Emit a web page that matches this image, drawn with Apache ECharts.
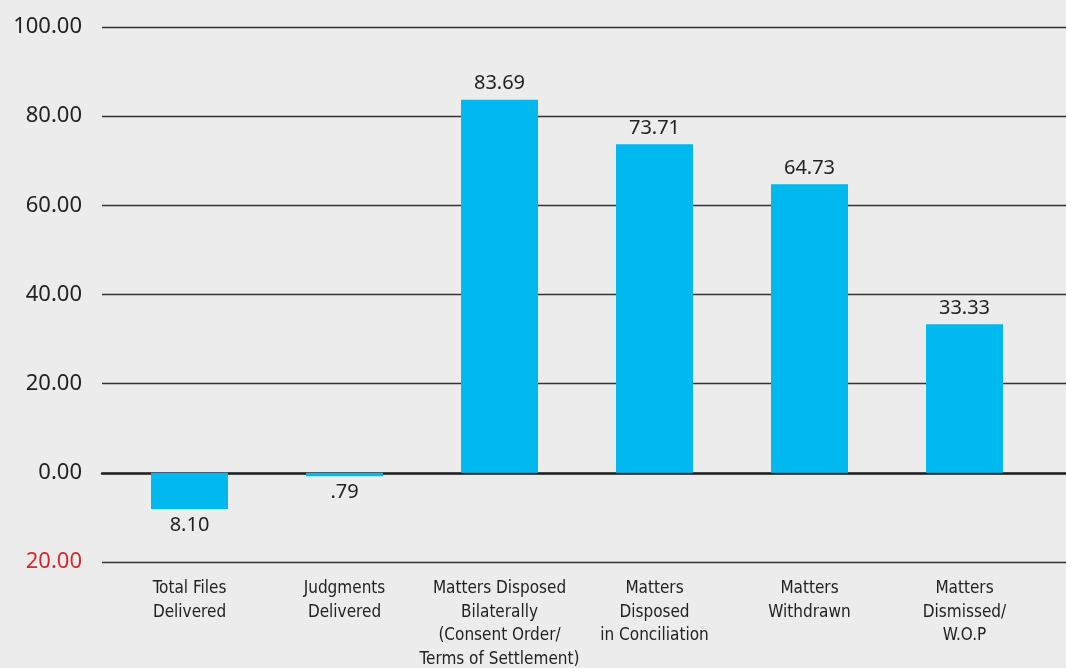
<!DOCTYPE html>
<html><head><meta charset="utf-8">
<script src="https://cdn.jsdelivr.net/npm/echarts@6/dist/echarts.min.js"></script>
<style>html,body{margin:0;padding:0;background:#ececec;}#c{width:1066px;height:668px;}</style>
</head><body><div id="c"></div>
<script>
const categories = ["Total Files\nDelivered", "Judgments\nDelivered", "Matters Disposed\nBilaterally\n(Consent Order/\nTerms of Settlement)", "Matters\nDisposed\nin Conciliation", "Matters\nWithdrawn", "Matters\nDismissed/\nW.O.P"];
const values = [-8.10, -0.79, 83.69, 73.71, 64.73, 33.33];
const yTicks = { min: -20, max: 100, interval: 20 };

const chart = echarts.init(document.getElementById('c'));
const fmtVal = v => { let s = Math.abs(v).toFixed(2); if (s.startsWith('0.')) s = s.slice(1); return s; };
const labelFont = "'Noto Sans', Lato, sans-serif";
chart.setOption({
  backgroundColor: '#ececec',
  animation: false,
  grid: [
    { left: 102, right: 0, top: 27, bottom: 106, containLabel: false, outerBoundsMode: 'none' },
    { left: 112, right: 24, top: 27, bottom: 106, containLabel: false, outerBoundsMode: 'none' }
  ],
  xAxis: [
    { gridIndex: 0, type: 'category', data: categories, axisLabel: { show: false }, axisTick: { show: false },
      axisLine: { show: true, onZero: true, lineStyle: { color: '#222', width: 2.5 } }, z: 5 },
    { gridIndex: 1, type: 'category', data: categories, axisLine: { show: false }, axisTick: { show: false },
      axisLabel: { color: '#222', fontSize: 17, lineHeight: 23.5, margin: 15, interval: 0,
        fontFamily: "'Liberation Sans Narrow', 'DejaVu Sans Condensed', 'Roboto Condensed', sans-serif" } }
  ],
  yAxis: [
    { gridIndex: 0, type: 'value', min: yTicks.min, max: yTicks.max, interval: yTicks.interval,
      axisLine: { show: false }, axisTick: { show: false },
      splitLine: { lineStyle: { color: '#333', width: 1.4 } },
      axisLabel: { margin: 20, fontSize: 22, fontFamily: labelFont,
        formatter: v => (v < 0 ? '{neg|' + Math.abs(v).toFixed(2) + '}' : '{pos|' + v.toFixed(2) + '}'),
        rich: { pos: { color: '#222', fontSize: 22, fontFamily: labelFont }, neg: { color: '#d7262e', fontSize: 22, fontFamily: labelFont } } } },
    { gridIndex: 1, type: 'value', min: yTicks.min, max: yTicks.max, interval: yTicks.interval, show: false,
      splitLine: { show: false } }
  ],
  series: [{
    type: 'bar', xAxisIndex: 1, yAxisIndex: 1, barWidth: 77, z: 10,
    data: values.map(v => ({ value: v, label: { position: v < 0 ? 'bottom' : 'top' } })),
    itemStyle: { color: '#00b9ef' },
    label: { show: true, distance: 6, color: '#222', fontSize: 20, fontFamily: labelFont,
      formatter: p => fmtVal(p.value) }
  }]
});
</script></body></html>
